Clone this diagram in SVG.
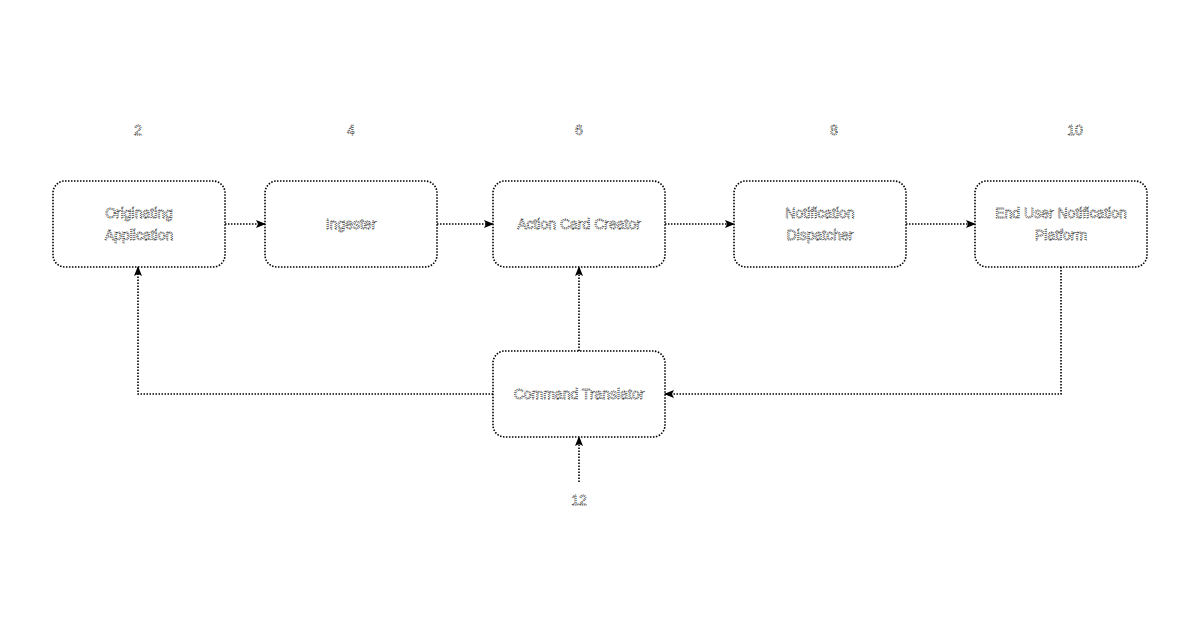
<svg xmlns="http://www.w3.org/2000/svg" width="1200" height="630" viewBox="0 0 1200 630">
<style>
.box{fill:#fff;stroke:#000;stroke-width:1.6;stroke-dasharray:1.5 1.5}
.t{font-family:"Liberation Sans",Arial,sans-serif;font-size:14px;text-anchor:middle;fill:#fff;stroke:#222;stroke-width:0.8;stroke-dasharray:1 1}
.c{fill:none;stroke:#000;stroke-width:1.6;stroke-dasharray:1.5 1.5}
</style>
<defs><marker id="a" markerWidth="10" markerHeight="8" refX="9" refY="4" orient="auto" markerUnits="userSpaceOnUse"><path d="M0,0 L10,4 L0,8 L2,4 Z" fill="#000"/></marker></defs>
<rect width="1200" height="630" fill="#fff"/>
<g id="labels">
<text class="t" x="138" y="135">2</text><text class="t" x="351" y="135">4</text><text class="t" x="579" y="135">6</text><text class="t" x="834" y="135">8</text><text class="t" x="1075" y="135">10</text><text class="t" x="579" y="505">12</text>
</g>
<g id="n2"><rect class="box" x="53" y="181" width="172" height="86" rx="12"/><text class="t" x="139" y="218">Originating</text><text class="t" x="139" y="240">Application</text></g>
<g id="n4"><rect class="box" x="265" y="181" width="172" height="86" rx="12"/><text class="t" x="351" y="229">Ingester</text></g>
<g id="n6"><rect class="box" x="493" y="181" width="172" height="86" rx="12"/><text class="t" x="579" y="229">Action Card Creator</text></g>
<g id="n8"><rect class="box" x="734" y="181" width="172" height="86" rx="12"/><text class="t" x="820" y="218">Notification</text><text class="t" x="820" y="240">Dispatcher</text></g>
<g id="n10"><rect class="box" x="975" y="181" width="172" height="86" rx="12"/><text class="t" x="1061" y="218">End User Notification</text><text class="t" x="1061" y="240">Platform</text></g>
<g id="nct"><rect class="box" x="493" y="351" width="172" height="86" rx="12"/><text class="t" x="579" y="399">Command Translator</text></g>
<g id="connectors">
<path class="c" d="M225,224 H265" marker-end="url(#a)"/>
<path class="c" d="M437,224 H493" marker-end="url(#a)"/>
<path class="c" d="M665,224 H734" marker-end="url(#a)"/>
<path class="c" d="M906,224 H975" marker-end="url(#a)"/>
<path class="c" d="M493,394 H138 V267" marker-end="url(#a)"/>
<path class="c" d="M1061,267 V394 H665" marker-end="url(#a)"/>
<path class="c" d="M579,351 V267" marker-end="url(#a)"/>
<path class="c" d="M579,482 V437" marker-end="url(#a)"/>
</g>
</svg>
